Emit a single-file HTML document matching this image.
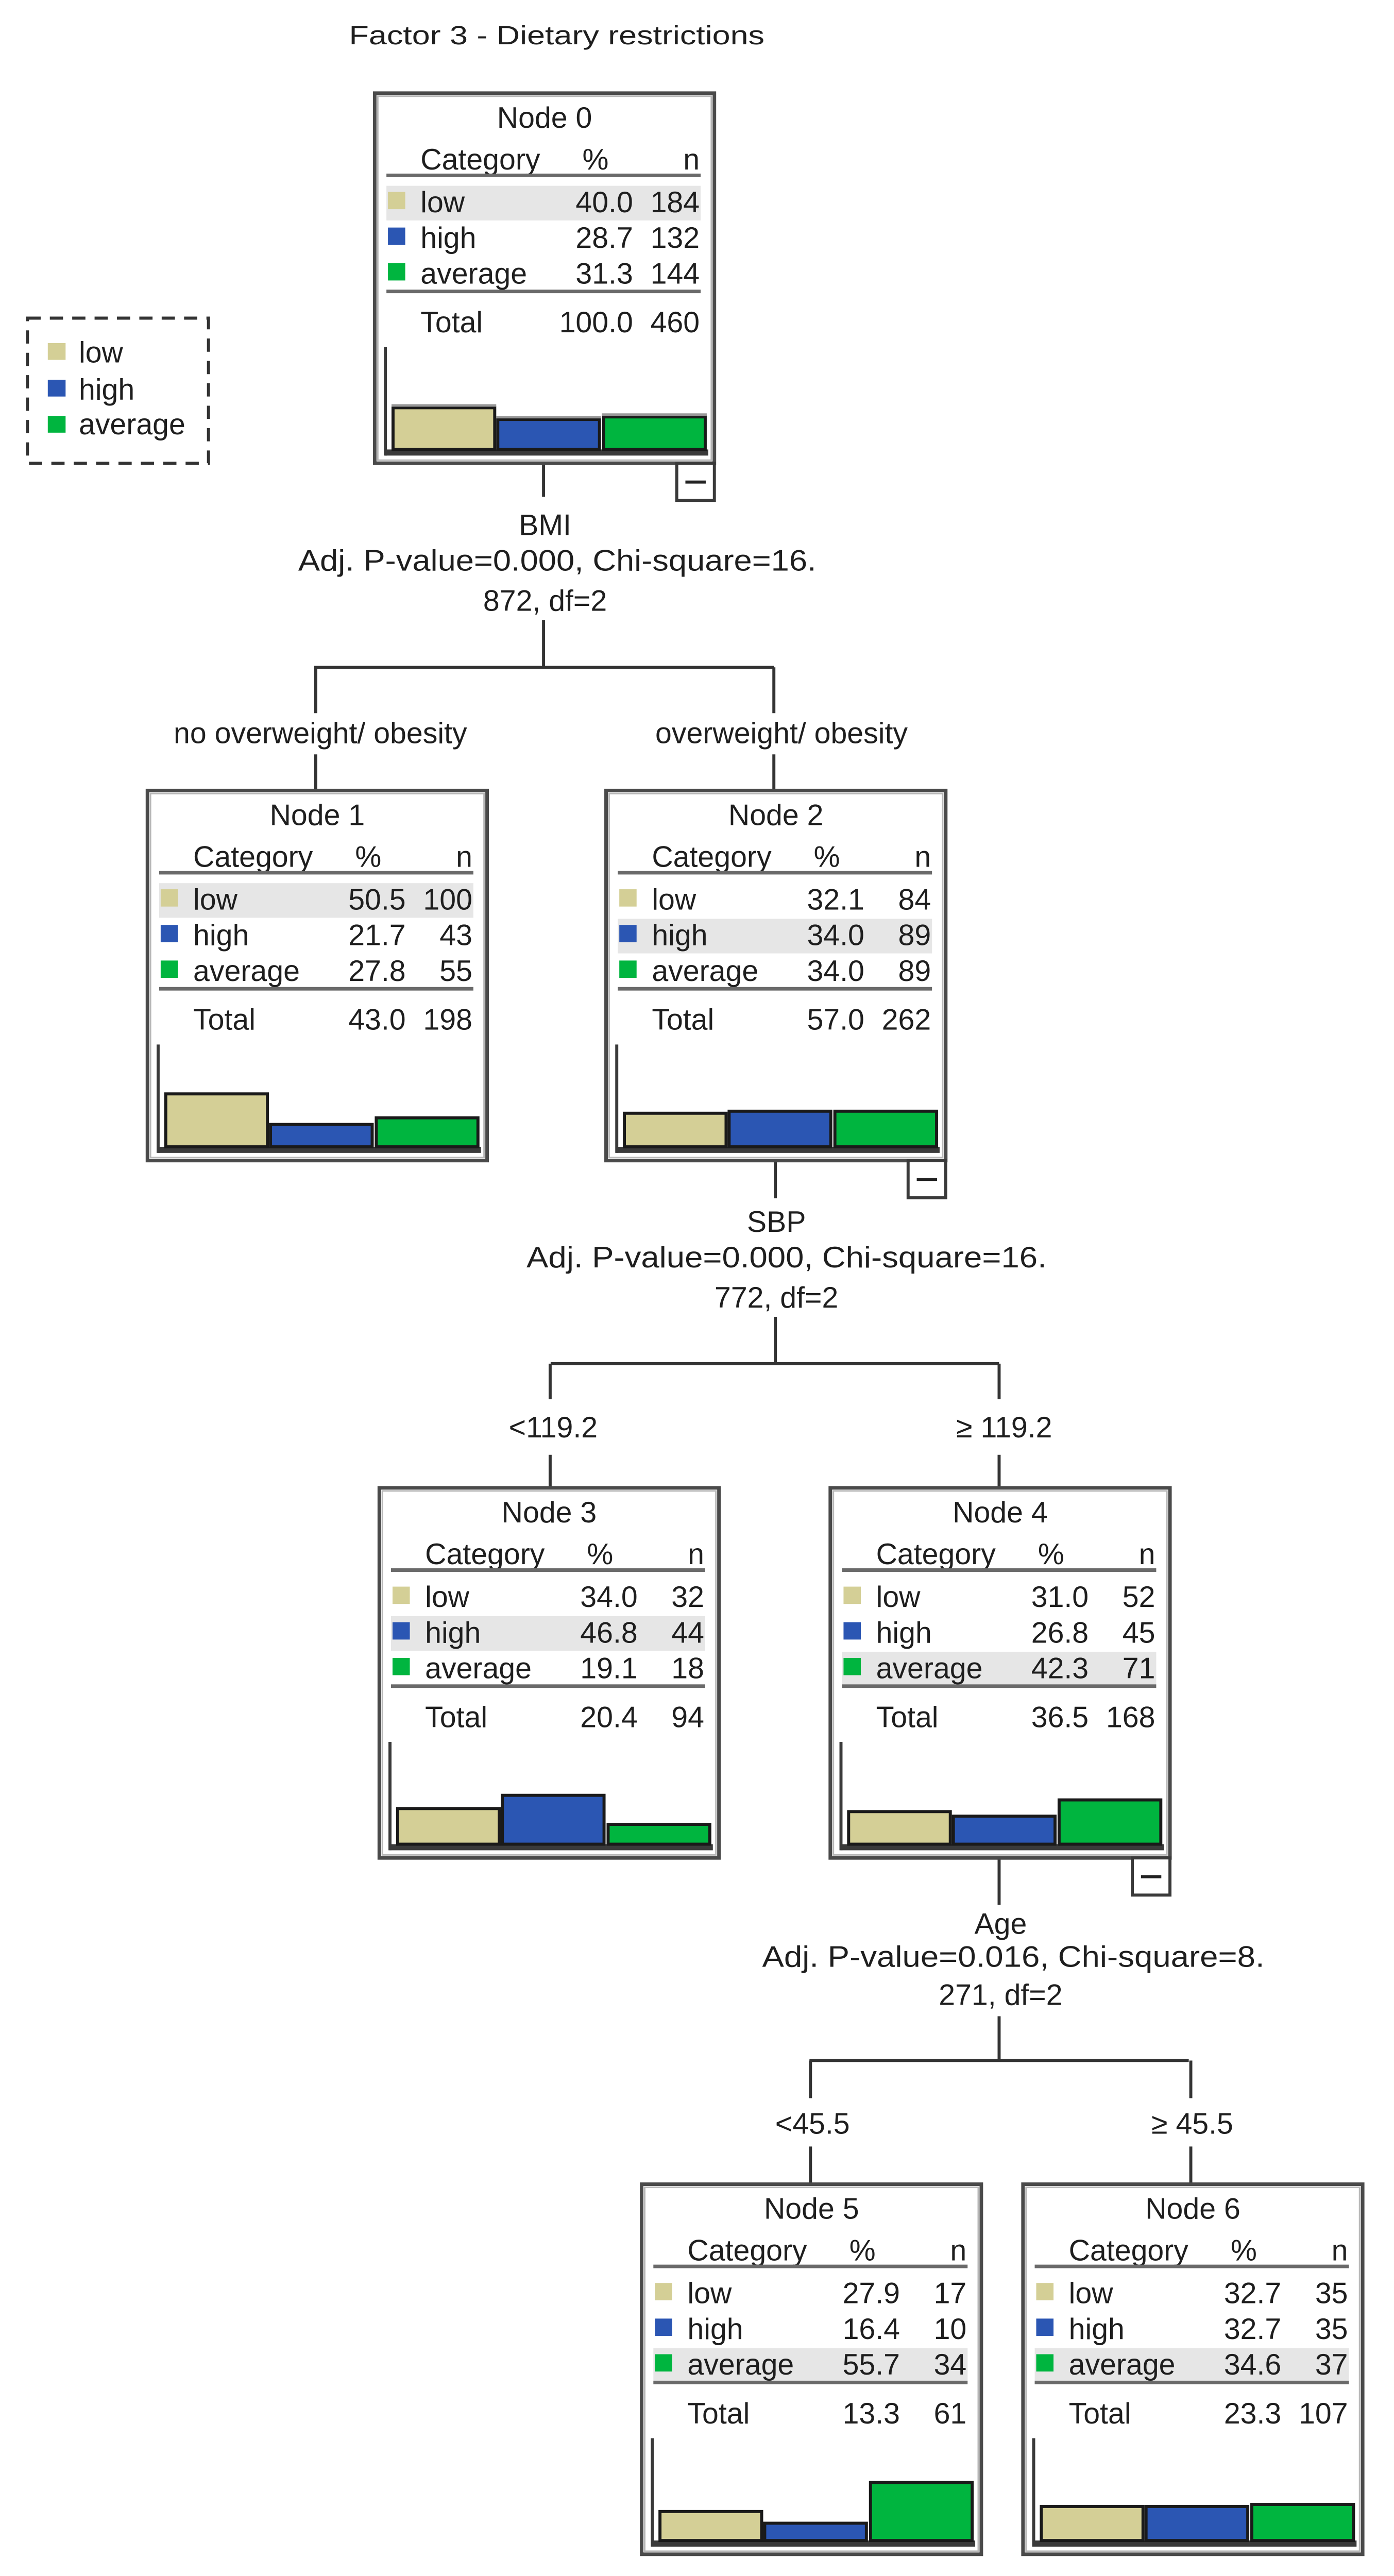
<!DOCTYPE html>
<html><head><meta charset="utf-8"><style>
html,body{margin:0;padding:0;background:#fff;overflow:hidden;}
svg{display:block;}
text{font-family:"Liberation Sans",sans-serif;fill:#1e1e1e;}
.t{font-size:58px;}
.e{text-anchor:end;}
.m{text-anchor:middle;}
</style></head><body>
<svg width="2706" height="5052" viewBox="0 0 2706 5052" xmlns="http://www.w3.org/2000/svg">
<defs>
<g id="frame">
  <rect x="0" y="0" width="668" height="727" fill="#fff" stroke="#4a4a4a" stroke-width="7"/>
  <rect x="6" y="6" width="656" height="715" fill="none" stroke="#b8b8b8" stroke-width="3"/>
</g>
<g id="inner">
  <text class="t" x="90" y="150">Category</text>
  <text class="t e" x="460" y="150">%</text>
  <text class="t e" x="639" y="150">n</text>
  <rect x="23" y="158" width="618" height="7" fill="#6a6a6a"/>
  <rect x="23" y="386" width="618" height="7" fill="#6a6a6a"/>
  <rect x="26" y="194" width="34" height="34" fill="#d4cf96"/>
  <rect x="26" y="264" width="34" height="34" fill="#2b56b3"/>
  <rect x="26" y="334" width="34" height="34" fill="#00b53f"/>
  <text class="t" x="90" y="470">Total</text>
  <rect x="18" y="499" width="6" height="213" fill="#3a3a3a"/>
  <rect x="20" y="700" width="636" height="12" fill="#3a3a3a"/>
</g>
<g id="minus">
  <rect x="594" y="727" width="74" height="73" fill="#fff" stroke="#3a3a3a" stroke-width="6"/>
  <rect x="611" y="761" width="40" height="6" fill="#222"/>
</g>
</defs>

<g transform="translate(0,2) scale(0.987,0.988)">
<text x="1095" y="85" class="m" style="font-size:52px" textLength="817" lengthAdjust="spacingAndGlyphs">Factor 3 - Dietary restrictions</text>

<!-- legend -->
<rect x="54" y="623" width="356" height="285" fill="none" stroke="#333" stroke-width="6" stroke-dasharray="26,18"/>
<rect x="94" y="672" width="35" height="33" fill="#d4cf96"/>
<rect x="94" y="744" width="35" height="33" fill="#2b56b3"/>
<rect x="94" y="815" width="35" height="33" fill="#00b53f"/>
<text class="t" x="155" y="710">low</text>
<text class="t" x="155" y="783">high</text>
<text class="t" x="155" y="851">average</text>

<!-- connectors -->
<g stroke="#333" stroke-width="6" fill="none">
  <path d="M1069 908 V974 M1069 1216 V1309 M618 1309 H1522 M621 1309 V1399 M621 1480 V1551 M1522 1309 V1399 M1522 1480 V1551"/>
  <path d="M1525 2278 V2352 M1525 2585 V2677 M1083 2677 H1965 M1082 2677 V2747 M1082 2856 V2921 M1965 2677 V2747 M1965 2856 V2921"/>
  <path d="M1965 3648 V3740 M1965 3959 V4046 M1592 4046 H2338 M1594 4046 V4120 M1594 4215 V4289 M2342 4046 V4120 M2342 4215 V4289"/>
</g>

<!-- split labels -->
<text class="t m" x="1072" y="1049">BMI</text>
<text class="t m" x="1096" y="1119" textLength="1019" lengthAdjust="spacingAndGlyphs">Adj. P-value=0.000, Chi-square=16.</text>
<text class="t m" x="1072" y="1198">872, df=2</text>
<text class="t m" x="630" y="1458">no overweight/ obesity</text>
<text class="t m" x="1537" y="1458">overweight/ obesity</text>

<text class="t m" x="1527" y="2418">SBP</text>
<text class="t m" x="1547" y="2488" textLength="1023" lengthAdjust="spacingAndGlyphs">Adj. P-value=0.000, Chi-square=16.</text>
<text class="t m" x="1527" y="2567">772, df=2</text>
<text class="t m" x="1088" y="2822">&lt;119.2</text>
<text class="t m" x="1975" y="2822">≥ 119.2</text>

<text class="t m" x="1968" y="3797">Age</text>
<text class="t m" x="1993" y="3862" textLength="988" lengthAdjust="spacingAndGlyphs">Adj. P-value=0.016, Chi-square=8.</text>
<text class="t m" x="1968" y="3937">271, df=2</text>
<text class="t m" x="1598" y="4190">&lt;45.5</text>
<text class="t m" x="2345" y="4190">≥ 45.5</text>

<!-- Node 0 -->
<g transform="translate(737,181)">
  <use href="#frame"/><use href="#minus"/>
  <rect x="23" y="182" width="618" height="68" fill="#e6e6e6"/>
  <use href="#inner"/>
  <text class="t m" x="334" y="68">Node 0</text>
  <text class="t" x="90" y="234">low</text><text class="t e" x="508" y="234">40.0</text><text class="t e" x="639" y="234">184</text>
  <text class="t" x="90" y="304">high</text><text class="t e" x="508" y="304">28.7</text><text class="t e" x="639" y="304">132</text>
  <text class="t" x="90" y="374">average</text><text class="t e" x="508" y="374">31.3</text><text class="t e" x="639" y="374">144</text>
  <text class="t e" x="508" y="470">100.0</text><text class="t e" x="639" y="470">460</text>
  <g stroke="#1a1a1a" stroke-width="6"><rect x="36" y="618" width="200" height="82" fill="#d4cf96"/><rect x="242" y="641" width="200" height="59" fill="#2b56b3"/><rect x="450" y="636" width="200" height="64" fill="#00b53f"/></g>
  <g fill="#999"><rect x="33" y="611" width="206" height="5"/><rect x="239" y="634" width="206" height="5"/><rect x="447" y="629" width="206" height="5"/></g>
</g>

<!-- Node 1 -->
<g transform="translate(290,1551)">
  <use href="#frame"/>
  <rect x="23" y="182" width="618" height="68" fill="#e6e6e6"/>
  <use href="#inner"/>
  <text class="t m" x="334" y="68">Node 1</text>
  <text class="t" x="90" y="234">low</text><text class="t e" x="508" y="234">50.5</text><text class="t e" x="639" y="234">100</text>
  <text class="t" x="90" y="304">high</text><text class="t e" x="508" y="304">21.7</text><text class="t e" x="639" y="304">43</text>
  <text class="t" x="90" y="374">average</text><text class="t e" x="508" y="374">27.8</text><text class="t e" x="639" y="374">55</text>
  <text class="t e" x="508" y="470">43.0</text><text class="t e" x="639" y="470">198</text>
  <g stroke="#1a1a1a" stroke-width="6"><rect x="36" y="596" width="200" height="104" fill="#d4cf96"/><rect x="242" y="656" width="200" height="44" fill="#2b56b3"/><rect x="450" y="643" width="200" height="57" fill="#00b53f"/></g>
</g>

<!-- Node 2 -->
<g transform="translate(1192,1551)">
  <use href="#frame"/><use href="#minus"/>
  <rect x="23" y="252" width="618" height="68" fill="#e6e6e6"/>
  <use href="#inner"/>
  <text class="t m" x="334" y="68">Node 2</text>
  <text class="t" x="90" y="234">low</text><text class="t e" x="508" y="234">32.1</text><text class="t e" x="639" y="234">84</text>
  <text class="t" x="90" y="304">high</text><text class="t e" x="508" y="304">34.0</text><text class="t e" x="639" y="304">89</text>
  <text class="t" x="90" y="374">average</text><text class="t e" x="508" y="374">34.0</text><text class="t e" x="639" y="374">89</text>
  <text class="t e" x="508" y="470">57.0</text><text class="t e" x="639" y="470">262</text>
  <g stroke="#1a1a1a" stroke-width="6"><rect x="36" y="634" width="200" height="66" fill="#d4cf96"/><rect x="242" y="630" width="200" height="70" fill="#2b56b3"/><rect x="450" y="630" width="200" height="70" fill="#00b53f"/></g>
</g>

<!-- Node 3 -->
<g transform="translate(746,2921)">
  <use href="#frame"/>
  <rect x="23" y="252" width="618" height="68" fill="#e6e6e6"/>
  <use href="#inner"/>
  <text class="t m" x="334" y="68">Node 3</text>
  <text class="t" x="90" y="234">low</text><text class="t e" x="508" y="234">34.0</text><text class="t e" x="639" y="234">32</text>
  <text class="t" x="90" y="304">high</text><text class="t e" x="508" y="304">46.8</text><text class="t e" x="639" y="304">44</text>
  <text class="t" x="90" y="374">average</text><text class="t e" x="508" y="374">19.1</text><text class="t e" x="639" y="374">18</text>
  <text class="t e" x="508" y="470">20.4</text><text class="t e" x="639" y="470">94</text>
  <g stroke="#1a1a1a" stroke-width="6"><rect x="36" y="630" width="200" height="70" fill="#d4cf96"/><rect x="242" y="604" width="200" height="96" fill="#2b56b3"/><rect x="450" y="661" width="200" height="39" fill="#00b53f"/></g>
</g>

<!-- Node 4 -->
<g transform="translate(1633,2921)">
  <use href="#frame"/><use href="#minus"/>
  <rect x="23" y="322" width="618" height="64" fill="#e6e6e6"/>
  <use href="#inner"/>
  <text class="t m" x="334" y="68">Node 4</text>
  <text class="t" x="90" y="234">low</text><text class="t e" x="508" y="234">31.0</text><text class="t e" x="639" y="234">52</text>
  <text class="t" x="90" y="304">high</text><text class="t e" x="508" y="304">26.8</text><text class="t e" x="639" y="304">45</text>
  <text class="t" x="90" y="374">average</text><text class="t e" x="508" y="374">42.3</text><text class="t e" x="639" y="374">71</text>
  <text class="t e" x="508" y="470">36.5</text><text class="t e" x="639" y="470">168</text>
  <g stroke="#1a1a1a" stroke-width="6"><rect x="36" y="636" width="200" height="64" fill="#d4cf96"/><rect x="242" y="645" width="200" height="55" fill="#2b56b3"/><rect x="450" y="613" width="200" height="87" fill="#00b53f"/></g>
</g>

<!-- Node 5 -->
<g transform="translate(1262,4289)">
  <use href="#frame"/>
  <rect x="23" y="322" width="618" height="64" fill="#e6e6e6"/>
  <use href="#inner"/>
  <text class="t m" x="334" y="68">Node 5</text>
  <text class="t" x="90" y="234">low</text><text class="t e" x="508" y="234">27.9</text><text class="t e" x="639" y="234">17</text>
  <text class="t" x="90" y="304">high</text><text class="t e" x="508" y="304">16.4</text><text class="t e" x="639" y="304">10</text>
  <text class="t" x="90" y="374">average</text><text class="t e" x="508" y="374">55.7</text><text class="t e" x="639" y="374">34</text>
  <text class="t e" x="508" y="470">13.3</text><text class="t e" x="639" y="470">61</text>
  <g stroke="#1a1a1a" stroke-width="6"><rect x="36" y="643" width="200" height="57" fill="#d4cf96"/><rect x="242" y="666" width="200" height="34" fill="#2b56b3"/><rect x="450" y="586" width="200" height="114" fill="#00b53f"/></g>
</g>

<!-- Node 6 -->
<g transform="translate(2012,4289)">
  <use href="#frame"/>
  <rect x="23" y="322" width="618" height="64" fill="#e6e6e6"/>
  <use href="#inner"/>
  <text class="t m" x="334" y="68">Node 6</text>
  <text class="t" x="90" y="234">low</text><text class="t e" x="508" y="234">32.7</text><text class="t e" x="639" y="234">35</text>
  <text class="t" x="90" y="304">high</text><text class="t e" x="508" y="304">32.7</text><text class="t e" x="639" y="304">35</text>
  <text class="t" x="90" y="374">average</text><text class="t e" x="508" y="374">34.6</text><text class="t e" x="639" y="374">37</text>
  <text class="t e" x="508" y="470">23.3</text><text class="t e" x="639" y="470">107</text>
  <g stroke="#1a1a1a" stroke-width="6"><rect x="36" y="633" width="200" height="67" fill="#d4cf96"/><rect x="242" y="633" width="200" height="67" fill="#2b56b3"/><rect x="450" y="629" width="200" height="71" fill="#00b53f"/></g>
</g>
</g>
</svg>
</body></html>
